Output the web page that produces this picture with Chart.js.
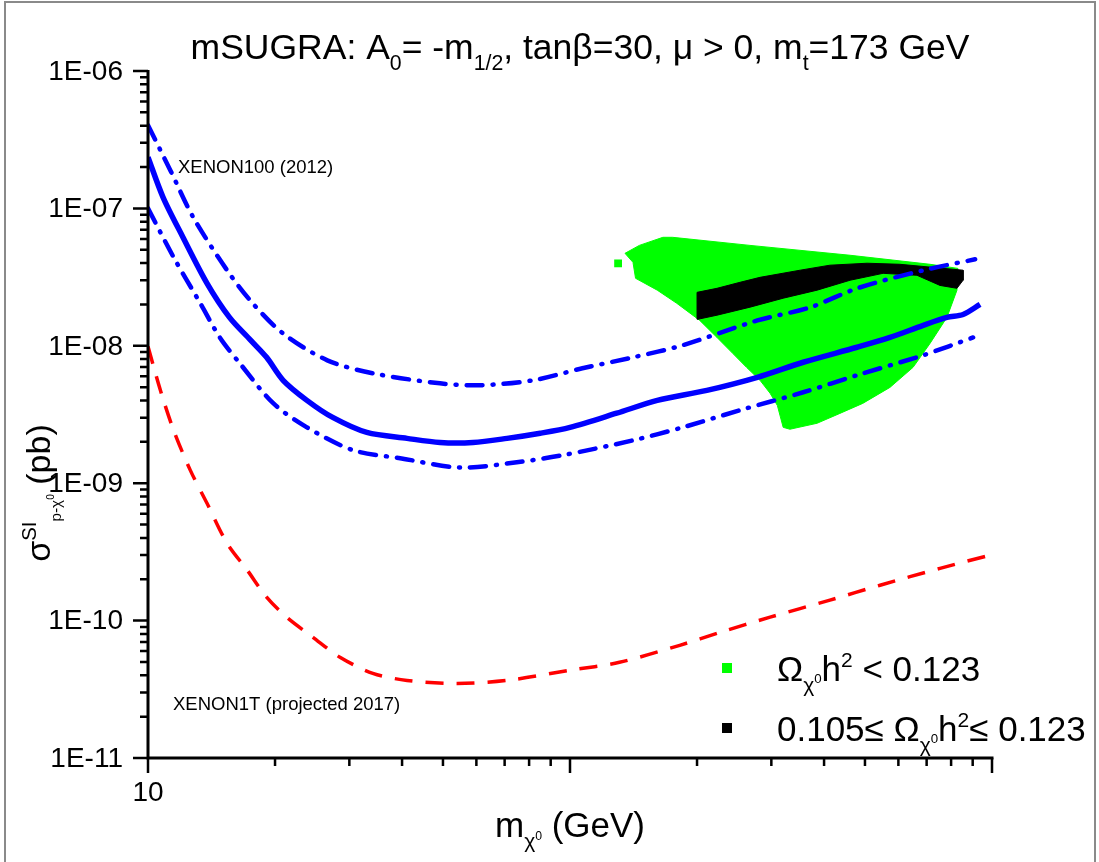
<!DOCTYPE html>
<html>
<head>
<meta charset="utf-8">
<script src="https://cdn.jsdelivr.net/npm/chart.js@4/dist/chart.umd.min.js"></script>
<style>
  body { margin: 0; background: #fff; }
  canvas { display: block; }
</style>
</head>
<body>
<canvas id="c" width="1099" height="862"></canvas>
<script>
// XENON100 (2012) central limit
var massX100 = [10, 10.85, 12.1, 13.8, 15.6, 17.5, 19.1, 20.9, 23.8, 27.4, 33.0, 41.1, 49.2, 58.9, 70.9, 85.0, 100, 129, 161, 211, 278, 357, 479, 573, 687, 782, 854, 937];
var sigmaX100 = [2.36e-7, 1.21e-7, 6.17e-8, 2.85e-8, 1.61e-8, 1.10e-8, 8.24e-9, 5.61e-9, 4.01e-9, 3.01e-9, 2.34e-9, 2.12e-9, 1.98e-9, 1.98e-9, 2.12e-9, 2.31e-9, 2.55e-9, 3.23e-9, 4.01e-9, 4.74e-9, 5.90e-9, 7.59e-9, 9.76e-9, 1.15e-8, 1.41e-8, 1.61e-8, 1.69e-8, 2.00e-8];

// XENON100 band, upper edge
var massUp = [10, 11.3, 12.8, 15.4, 17.7, 20.9, 26.6, 34.1, 49.2, 61.2, 81.7, 107, 141, 185, 278, 370, 479, 686, 912];
var sigmaUp = [4.03e-7, 1.89e-7, 8.61e-8, 3.54e-8, 2.04e-8, 1.23e-8, 7.84e-9, 6.31e-9, 5.33e-9, 5.16e-9, 5.61e-9, 6.86e-9, 8.24e-9, 1.01e-8, 1.53e-8, 1.90e-8, 2.62e-8, 3.54e-8, 4.26e-8];

// XENON100 band, lower edge
var massLow = [10, 11.5, 13.3, 14.8, 16.5, 19.8, 23.8, 30.6, 39.6, 54.9, 74.8, 96.2, 141, 185, 253, 357, 479, 686, 902];
var sigmaLow = [1.0e-7, 4.41e-8, 2.04e-8, 1.15e-8, 7.46e-9, 3.82e-9, 2.55e-9, 1.74e-9, 1.52e-9, 1.30e-9, 1.42e-9, 1.60e-9, 2.05e-9, 2.55e-9, 3.40e-9, 4.59e-9, 6.11e-9, 8.53e-9, 1.15e-8];

// XENON1T projected
var mass1T = [10, 10.7, 11.5, 12.6, 13.8, 15.4, 17.2, 19.1, 21.3, 24.6, 28.5, 34.1, 41.1, 54.0, 70.9, 100, 131, 182, 227, 298, 413, 543, 753, 988];
var sigma1T = [9.9e-9, 4.74e-9, 2.43e-9, 1.24e-9, 7.14e-10, 3.65e-10, 2.32e-10, 1.48e-10, 1.06e-10, 7.56e-11, 5.41e-11, 4.13e-11, 3.67e-11, 3.49e-11, 3.67e-11, 4.35e-11, 4.97e-11, 6.61e-11, 8.22e-11, 1.06e-10, 1.41e-10, 1.81e-10, 2.40e-10, 2.99e-10];

// region Omega h^2 < 0.123 (outline of the scanned points)
var massAll = [135, 146, 166, 175, 267, 461, 713, 830, 826, 782, 713, 650, 573, 494, 436, 385, 332, 320, 310, 298, 282, 262, 243, 223, 203, 179, 161, 143, 141, 135];
var sigmaAll = [4.71e-8, 5.38e-8, 6.16e-8, 6.16e-8, 5.38e-8, 4.56e-8, 3.92e-8, 3.66e-8, 2.54e-8, 1.61e-8, 1.04e-8, 6.97e-9, 4.98e-9, 3.81e-9, 3.22e-9, 2.73e-9, 2.47e-9, 2.55e-9, 3.68e-9, 4.51e-9, 5.61e-9, 6.97e-9, 8.81e-9, 1.15e-8, 1.53e-8, 2.04e-8, 2.54e-8, 3.10e-8, 4.05e-8, 4.71e-8];
var massStray = [130];
var sigmaStray = [3.98e-8];

// region 0.105 <= Omega h^2 <= 0.123
var massWmap = [200, 223, 253, 282, 351, 413, 506, 605, 854, 854, 826, 753, 664, 552, 461, 385, 320, 267, 223, 201, 200];
var sigmaWmap = [2.45e-8, 2.62e-8, 2.90e-8, 3.15e-8, 3.55e-8, 3.86e-8, 3.99e-8, 3.92e-8, 3.55e-8, 3.00e-8, 2.62e-8, 2.75e-8, 3.26e-8, 3.37e-8, 3.00e-8, 2.54e-8, 2.22e-8, 1.91e-8, 1.67e-8, 1.56e-8, 2.45e-8];

// axes
var xMajor = [10, 100, 1000];
var xLabels = ['10', '', ''];
var yMajor = [1e-11, 1e-10, 1e-9, 1e-8, 1e-7, 1e-6];
var yLabels = ['1E-11', '1E-10', '1E-09', '1E-08', '1E-07', '1E-06'];

var FONT = '"Liberation Sans", Arial, sans-serif';

function pts(xs, ys) {
    return xs.map(function (v, i) { return {x: v, y: ys[i]}; });
}

function minors(majors) {
    var out = [];
    for (var i = 0; i < majors.length - 1; i++)
        for (var k = 2; k <= 9; k++) out.push(majors[i] * k);
    return out;
}

// draws text with sub/superscripts; parts = [text, scale, dy(em)]
function rich(ctx, parts, x, y, size, align) {
    var w = 0;
    parts.forEach(function (p) {
        ctx.font = (size * p[1]) + 'px ' + FONT;
        w += ctx.measureText(p[0]).width;
    });
    var cx = align == 'center' ? x - w / 2 : x;
    ctx.textAlign = 'left';
    ctx.textBaseline = 'alphabetic';
    parts.forEach(function (p) {
        ctx.font = (size * p[1]) + 'px ' + FONT;
        ctx.fillText(p[0], cx, y + p[2] * size);
        cx += ctx.measureText(p[0]).width;
    });
}

var deco = {
    id: 'deco',
    afterDraw: function (chart) {
        var ctx = chart.ctx, a = chart.chartArea;
        var xs = chart.scales.x, ys = chart.scales.y;
        ctx.save();
        // outer frame
        ctx.strokeStyle = '#8a8a8a';
        ctx.lineWidth = 2;
        ctx.strokeRect(5, 2, 1090, 900);

        // axis lines
        ctx.strokeStyle = '#000';
        ctx.lineWidth = 3;
        ctx.beginPath();
        ctx.moveTo(a.left, a.top - 1);
        ctx.lineTo(a.left, a.bottom + 1.5);
        ctx.moveTo(a.left - 1.5, a.bottom);
        ctx.lineTo(a.right + 1.5, a.bottom);
        ctx.stroke();

        // ticks
        ctx.lineWidth = 2.5;
        ctx.beginPath();
        xMajor.forEach(function (v) {
            var px = xs.getPixelForValue(v);
            ctx.moveTo(px, a.bottom); ctx.lineTo(px, a.bottom + 15);
        });
        minors(xMajor).forEach(function (v) {
            var px = xs.getPixelForValue(v);
            ctx.moveTo(px, a.bottom); ctx.lineTo(px, a.bottom + 8);
        });
        yMajor.forEach(function (v) {
            var py = ys.getPixelForValue(v);
            ctx.moveTo(a.left, py); ctx.lineTo(a.left - 15, py);
        });
        minors(yMajor).forEach(function (v) {
            var py = ys.getPixelForValue(v);
            ctx.moveTo(a.left, py); ctx.lineTo(a.left - 8, py);
        });
        ctx.stroke();

        // tick labels
        ctx.fillStyle = '#000';
        ctx.font = '28px ' + FONT;
        ctx.textAlign = 'right';
        ctx.textBaseline = 'middle';
        yMajor.forEach(function (v, i) {
            ctx.fillText(yLabels[i], a.left - 25, ys.getPixelForValue(v) + 1);
        });
        ctx.textAlign = 'center';
        ctx.textBaseline = 'top';
        xMajor.forEach(function (v, i) {
            if (xLabels[i]) ctx.fillText(xLabels[i], xs.getPixelForValue(v), a.bottom + 21);
        });

        // title
        rich(ctx, [['mSUGRA: A', 1, 0], ['0', 0.6, 0.3], ['= -m', 1, 0], ['1/2', 0.6, 0.3],
            [', tan\u03b2=30, \u03bc > 0, m', 1, 0], ['t', 0.6, 0.3], ['=173 GeV', 1, 0]],
            580, 59, 35.5, 'center');

        // x axis title
        rich(ctx, [['m', 1, 0], ['\u03c7', 0.6, 0.3], ['0', 0.35, 0.08], [' (GeV)', 1, 0]],
            (a.left + a.right) / 2, 837, 35, 'center');

        // y axis title
        ctx.save();
        ctx.translate(50, 493);
        ctx.rotate(-Math.PI / 2);
        rich(ctx, [['\u03c3', 1, 0], ['SI', 0.6, -0.42], ['p-\u03c7', 0.45, 0.32], ['0', 0.3, 0.12], [' (pb)', 1, 0]],
            0, 0, 34, 'center');
        ctx.restore();

        // curve labels
        ctx.font = '18.5px ' + FONT;
        ctx.textAlign = 'left';
        ctx.textBaseline = 'alphabetic';
        ctx.fillText('XENON100 (2012)', 178, 173);
        ctx.fillText('XENON1T (projected 2017)', 173, 710);

        // legend
        ctx.fillStyle = '#00ff00';
        ctx.fillRect(722, 663, 10, 10);
        ctx.fillStyle = '#000';
        ctx.fillRect(722, 723, 10, 10);
        rich(ctx, [['\u03a9', 1, 0], ['\u03c7', 0.6, 0.3], ['0', 0.38, 0.05], ['h', 1, 0], ['2', 0.6, -0.4], [' < 0.123', 1, 0]],
            777, 681, 35, 'left');
        rich(ctx, [['0.105\u2264 \u03a9', 1, 0], ['\u03c7', 0.6, 0.3], ['0', 0.38, 0.05], ['h', 1, 0], ['2', 0.6, -0.4], ['\u2264 0.123', 1, 0]],
            777, 741, 35, 'left');
        ctx.restore();
    }
};

var ctx = document.getElementById('c').getContext('2d');
new Chart(ctx, {
    type: 'scatter',
    data: {
        datasets: [
            {data: pts(massX100, sigmaX100), showLine: true, borderColor: '#0000ff', borderWidth: 5.5, pointRadius: 0, tension: 0.3, fill: false},
            {data: pts(massUp, sigmaUp), showLine: true, borderColor: '#0000ff', borderWidth: 4.5, borderDash: [16, 10, 1, 10], borderCapStyle: 'round', pointRadius: 0, tension: 0.3, fill: false},
            {data: pts(massLow, sigmaLow), showLine: true, borderColor: '#0000ff', borderWidth: 4.5, borderDash: [16, 10, 1, 10], borderCapStyle: 'round', pointRadius: 0, tension: 0.3, fill: false},
            {data: pts(mass1T, sigma1T), showLine: true, borderColor: '#ff0000', borderWidth: 3.5, borderDash: [18, 13], pointRadius: 0, tension: 0.3, fill: false},
            {data: pts(massWmap, sigmaWmap), showLine: true, borderColor: '#000', backgroundColor: '#000', borderWidth: 1, pointRadius: 0, tension: 0, fill: 'shape'},
            {data: pts(massStray, sigmaStray), pointStyle: 'rect', pointRadius: 5.5, backgroundColor: '#00ff00', borderWidth: 0},
            {data: pts(massAll, sigmaAll), showLine: true, borderColor: '#00ff00', backgroundColor: '#00ff00', borderWidth: 1, pointRadius: 0, tension: 0, fill: 'shape'}
        ]
    },
    options: {
        responsive: false,
        animation: false,
        layout: {padding: {left: 0, top: 71, right: 107, bottom: 0}},
        plugins: {legend: {display: false}, tooltip: {enabled: false}},
        scales: {
            x: {
                type: 'logarithmic', min: 10, max: 1000,
                grid: {display: false}, border: {display: false}, ticks: {display: false},
                afterFit: function (s) { s.height = 104; }
            },
            y: {
                type: 'logarithmic', min: 1e-11, max: 1e-6,
                grid: {display: false}, border: {display: false}, ticks: {display: false},
                afterFit: function (s) { s.width = 148; }
            }
        }
    },
    plugins: [deco]
});
</script>
</body>
</html>
